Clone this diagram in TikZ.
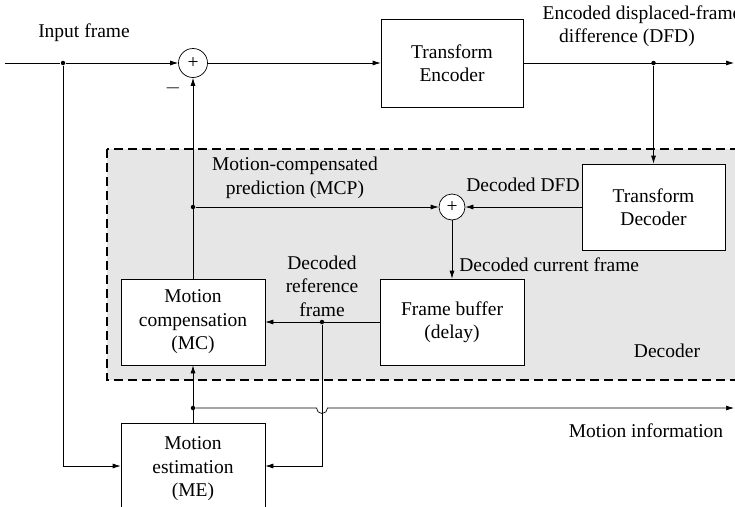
\documentclass[tikz,border=0pt]{standalone}
\usepackage{fontspec}
\setmainfont{Liberation Serif}
\usetikzlibrary{arrows.meta}
\definecolor{decgray}{HTML}{E6E6E6}
\begin{document}
\begin{tikzpicture}[x=1pt,y=-1pt,
  font=\fontsize{19.5}{23.5}\selectfont,
  line width=0.7pt,
  >={Latex[length=8pt,width=5pt]},
  blk/.style={draw, fill=white, minimum width=144, minimum height=86, inner sep=0, align=center},
  summer/.style={draw, circle, fill=white, minimum size=28, inner sep=0},
  lbl/.style={align=center, inner sep=0},
  jdot/.style={circle, fill, inner sep=0, minimum size=4.5},
]
\useasboundingbox (0,0) rectangle (735,506);
% decoder region
\draw[dashed, line width=1.4pt, dash pattern=on 9pt off 5pt, fill=decgray] (107,149) rectangle (745,380);

% blocks
\node[blk, minimum width=142, minimum height=88] (enc) at (452,63) {Transform\\Encoder};
\node[blk, minimum width=143] (dec) at (653.5,207) {Transform\\Decoder};
\node[blk] (fb) at (452,322) {Frame buffer\\(delay)};
\node[blk] (mc) at (193,322) {Motion\\compensation\\(MC)};
\node[blk, minimum height=92] (me) at (193,469) {Motion\\estimation\\(ME)};
\node[summer, minimum size=29] (s1) at (193,63) {+};
\node[summer, minimum size=26] (s2) at (452,207) {+};

% junctions and free ends
\coordinate (inL) at (5,63);
\node[jdot] (jin) at (63,63) {};
\coordinate (inCorner) at (63,466);
\coordinate (encOut) at (734,63);
\node[jdot] (jenc) at (653.5,63) {};
\node[jdot] (jmcp) at (193,207) {};
\node[jdot] (jref) at (322,322) {};
\coordinate (refCorner) at (322,466);
\node[jdot] (jmi) at (193,408) {};
\coordinate (hopL) at (316.5,408);
\coordinate (miOut) at (734,408);

% connectors
\draw[->] (inL) -- (jin) -- (s1);
\draw[->] (jin) -- (inCorner) -- (me.west |- inCorner);
\draw[->] (s1) -- (enc);
\draw[->] (enc) -- (encOut);
\draw[->] (jenc) -- (dec.north);
\draw[->] (dec.west |- s2) -- (s2);
\draw[->] (mc.north) -- (s1.south);
\draw[->] (jmcp) -- (s2);
\draw[->] (s2) -- (fb.north);
\draw[->] (fb.west) -- (mc.east);
\draw[->] (jref) -- (refCorner) -- (me.east |- refCorner);
\draw[->] (me.north) -- (mc.south);
\draw[->] (jmi) -- (hopL) arc[start angle=180, end angle=0, radius=5.5] -- (miOut);

% labels
\node[lbl] at (84,33) {Input frame};
\node[lbl] at (173,88) {$-$};
\node[lbl] at (642,26) {Encoded displaced-frame\\difference (DFD)\hspace*{30pt}};
\node[lbl] at (295,178) {Motion-compensated\\prediction (MCP)};
\node[lbl] at (523,185) {Decoded DFD};
\node[lbl, anchor=west] at (459,265) {Decoded current frame};
\node[lbl] at (322,286) {Decoded\\reference\\frame};
\node[lbl] at (667,351) {Decoder};
\node[lbl] at (646,431) {Motion information};
\end{tikzpicture}
\end{document}
